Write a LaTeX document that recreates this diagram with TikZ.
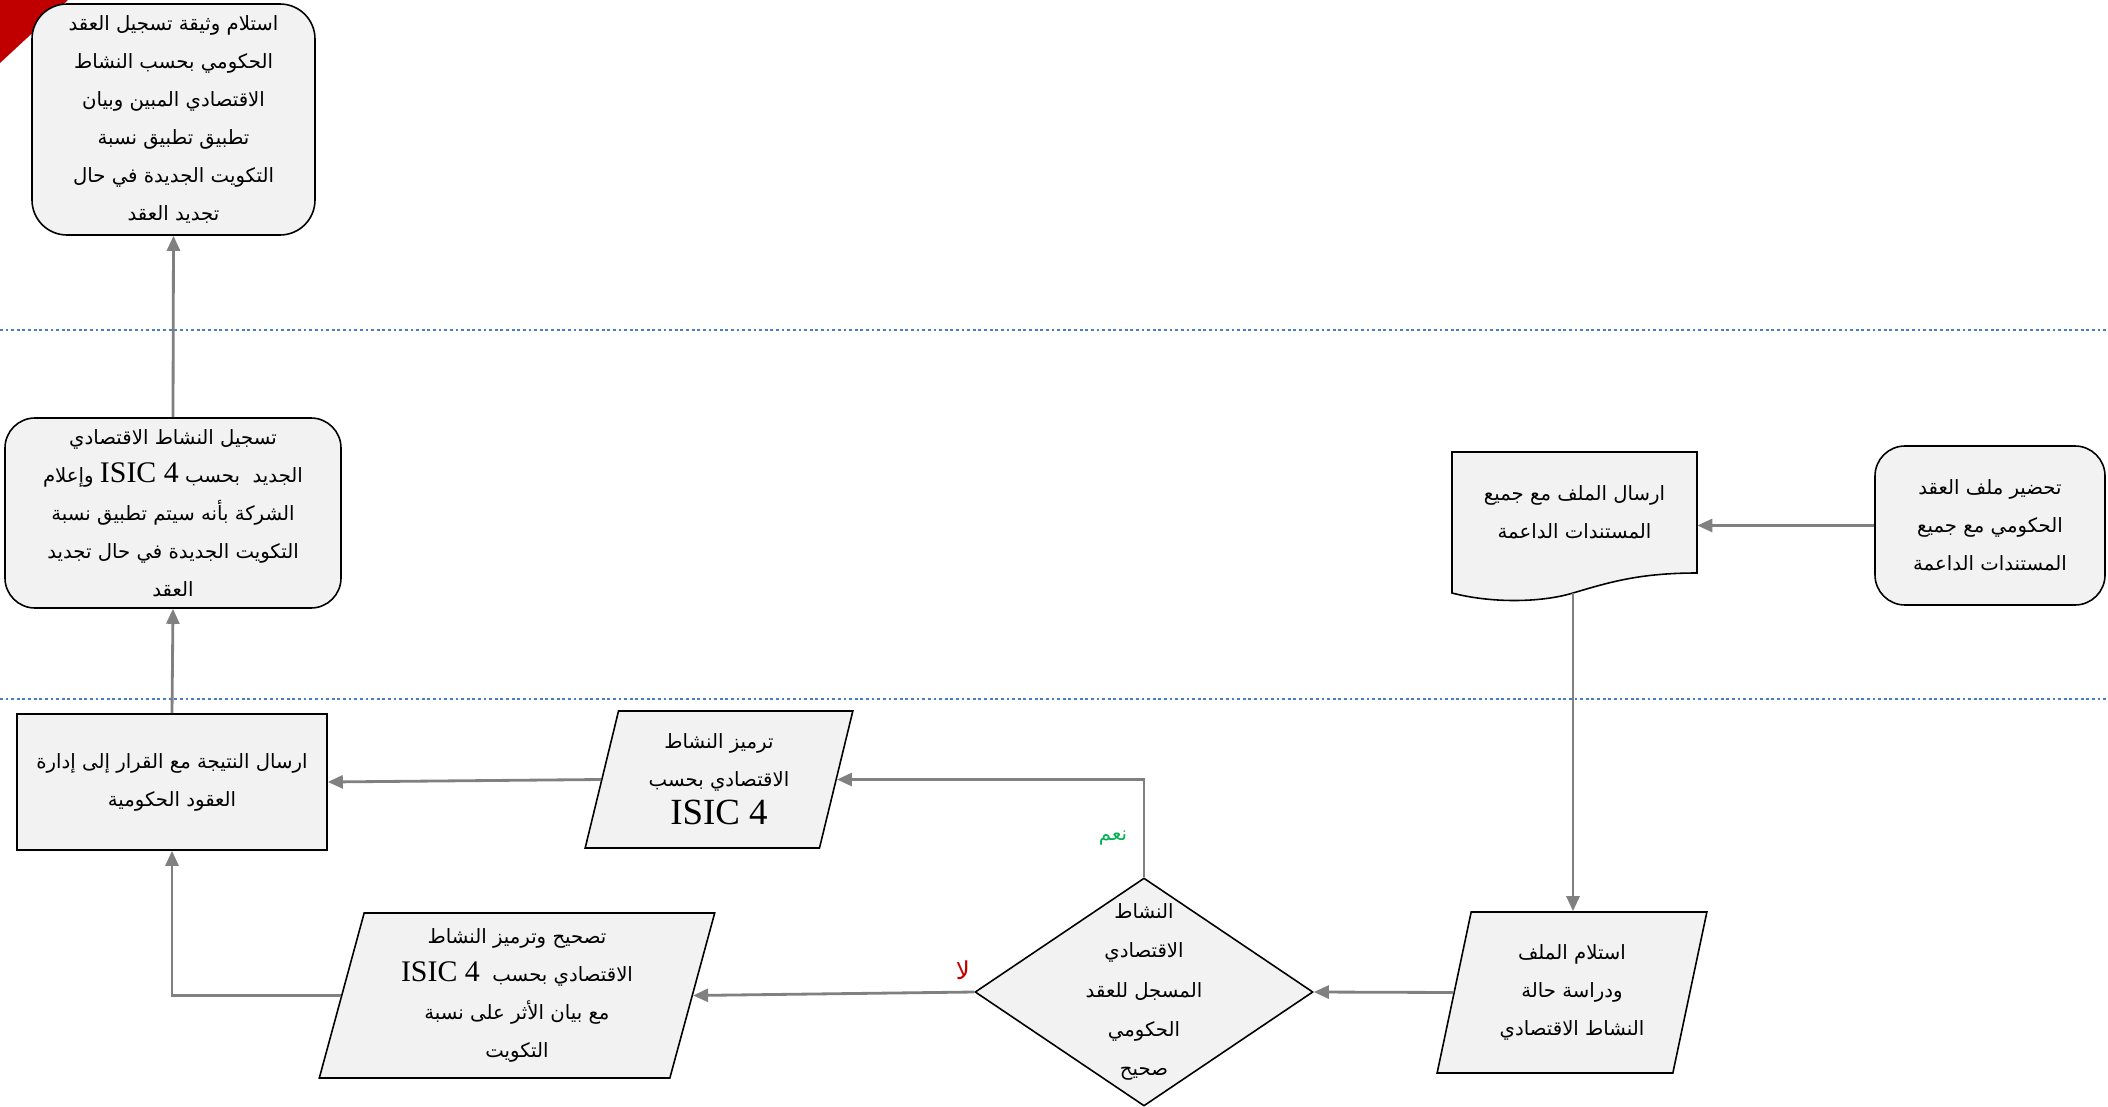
\documentclass[tikz,border=0pt]{standalone}
\usepackage{fontspec}
\usetikzlibrary{shapes.geometric,arrows.meta}
\TeXXeTstate=1
\newfontfamily\arabicfont[Script=Arabic]{DejaVu Sans}
\newfontfamily\latinfont{Liberation Serif}
\definecolor{boxgray}{HTML}{F2F2F2}
\definecolor{linegray}{HTML}{808080}
\definecolor{laneblue}{HTML}{4A7EC4}
\definecolor{yesgreen}{HTML}{00B050}
\definecolor{nored}{HTML}{C00000}
\newcommand{\rtlline}[1]{\beginR #1\endR}
\newcommand{\isic}[1]{\beginL{\latinfont\fontsize{#1}{#1}\selectfont ISIC 4}\endL{}}

\begin{document}
\begin{tikzpicture}[x=0.2mm, y=-0.2mm,
    txt/.style={align=center, font=\arabicfont\fontsize{11.2}{21.6}\selectfont, inner sep=2pt},
    box/.style={txt, draw, line width=0.9pt, fill=boxgray},
    roundbox/.style={box, rounded corners=6mm},
    iobox/.style={box, trapezium, trapezium left angle=76, trapezium right angle=104, trapezium stretches=true},
    decision/.style={box, diamond},
    flow/.style={draw=linegray, line width=1.6pt, -{Triangle[length=3mm,width=2.6mm]}},
    lane/.style={laneblue, line width=1.6pt, dash pattern=on 1.6pt off 1.6pt}]
  \useasboundingbox (0,0) rectangle (2108,1107);
  \fill[nored] (0,0) -- (68,0) -- (0,63) -- cycle;
  \draw[lane] (0,330) -- (2108,330);
  \draw[lane] (0,699) -- (2108,699);

  \node[roundbox, rounded corners=7mm, minimum width=56.6mm, minimum height=46.2mm] (record) at (173.5,119.5)
    {\rtlline{استلام وثيقة تسجيل العقد}\\
     \rtlline{الحكومي بحسب النشاط}\\
     \rtlline{الاقتصادي المبين وبيان}\\
     \rtlline{تطبيق تطبيق نسبة}\\
     \rtlline{التكويت الجديدة في حال}\\
     \rtlline{تجديد العقد}};
  \node[roundbox, minimum width=67.2mm, minimum height=38mm] (register) at (173,513)
    {\rtlline{تسجيل النشاط الاقتصادي}\\
     \rtlline{الجديد \ بحسب \isic{17} وإعلام}\\
     \rtlline{الشركة بأنه سيتم تطبيق نسبة}\\
     \rtlline{التكويت الجديدة في حال تجديد}\\
     \rtlline{العقد}};
  \node[roundbox, minimum width=46mm, minimum height=31.8mm] (prepare) at (1990,525.5)
    {\rtlline{تحضير ملف العقد}\\
     \rtlline{الحكومي مع جميع}\\
     \rtlline{المستندات الداعمة}};
  \draw[line width=0.9pt, fill=boxgray] (1452,452) -- (1697,452) -- (1697,573)
    .. controls (1640,573) and (1610,582) .. (1573,593)
    .. controls (1540,603) and (1490,603) .. (1452,593) -- cycle;
  \node[txt, minimum width=49mm, minimum height=24.2mm, inner sep=0pt] (send) at (1574.5,512.5)
    {\rtlline{ارسال الملف مع جميع}\\
     \rtlline{المستندات الداعمة}};
  \coordinate (sendfoot) at (1573,593);
  \node[box, minimum width=62mm, minimum height=27.2mm] (result) at (172,782)
    {\rtlline{ارسال النتيجة مع القرار إلى إدارة}\\
     \rtlline{العقود الحكومية}};
  \node[iobox, minimum width=53.6mm, minimum height=27.4mm] (code) at (719,779.5)
    {\rtlline{ترميز النشاط}\\
     \rtlline{الاقتصادي بحسب}\\
     \isic{21}};
  \node[decision, minimum width=67.6mm, minimum height=45.6mm] (check) at (1144,992) {};
  \node[txt, font=\arabicfont\fontsize{11.2}{22.4}\selectfont] (checktext) at (check)
    {\rtlline{النشاط}\\
     \rtlline{الاقتصادي}\\
     \rtlline{المسجل للعقد}\\
     \rtlline{الحكومي}\\
     \rtlline{صحيح}};
  \node[iobox, minimum width=54mm, minimum height=32.2mm] (receive) at (1572,992.5)
    {\rtlline{استلام الملف}\\
     \rtlline{ودراسة حالة}\\
     \rtlline{النشاط الاقتصادي}};
  \node[iobox, minimum width=79.2mm, minimum height=33mm] (fix) at (517,995.5)
    {\rtlline{تصحيح وترميز النشاط}\\
     \rtlline{الاقتصادي بحسب \ \isic{17}}\\
     \rtlline{مع بيان الأثر على نسبة}\\
     \rtlline{التكويت}};
  \node[txt, text=yesgreen] (yes) at (1113,838) {\rtlline{نعم}};
  \node[txt, text=nored, font=\arabicfont\fontsize{14}{16}\selectfont] (no) at (963,970) {\rtlline{لا}};

  \draw[flow] (register.north) -- (record.south);
  \draw[flow] (result.north) -- (register.south);
  \draw[flow] (prepare.west) -- (prepare.west -| send.east);
  \draw[flow] (sendfoot) -- (sendfoot |- receive.north);
  \draw[flow] (receive.west) -- (check.east);
  \draw[flow] (check.west) -- (fix.east);
  \draw[flow] (check.north) |- (code.east);
  \draw[flow] (code.west) -- (result.east);
  \draw[flow] (fix.west) -| (result.south);
\end{tikzpicture}
\end{document}
